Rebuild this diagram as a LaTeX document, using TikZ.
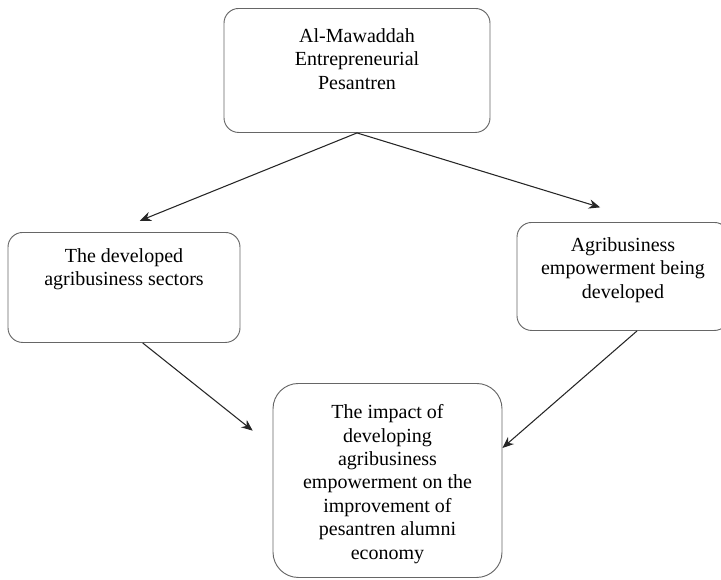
\documentclass[tikz,border=0pt]{standalone}
\usepackage{fontspec}
\setmainfont{Liberation Serif}
\usetikzlibrary{arrows.meta}

\begin{document}
\begin{tikzpicture}[x=0.75pt,y=-0.75pt,
    box/.style={draw=black!60,line width=0.7pt,rounded corners=11pt,anchor=north,
      align=center,inner xsep=0pt,inner ysep=0pt,
      font=\fontsize{15}{17.6}\selectfont},
    arr/.style={-{Stealth[length=8.5pt,width=7pt]},line width=0.8pt,black!85}]
  \useasboundingbox (0,0) rectangle (721,579);
  % boxes (text height runs to the last baseline)
  \node[box,minimum width=199.5pt,text height=60.7pt,text depth=32.3pt] (top) at (357,8)
    {Al-Mawaddah\\Entrepreneurial\\Pesantren};
  \node[box,minimum width=174pt,text height=40.1pt,text depth=42.4pt] (sectors) at (124,232)
    {The developed\\agribusiness sectors};
  \node[box,minimum width=159pt,text height=56.9pt,text depth=24.1pt] (empower) at (623,222)
    {Agribusiness\\empowerment being\\developed};
  \node[box,rounded corners=19pt,minimum width=171.75pt,text height=131.9pt,text depth=13.6pt]
    (impact) at (387.5,383)
    {The impact of\\developing\\agribusiness\\empowerment on the\\improvement of\\pesantren alumni\\economy};
  % arrows
  \draw[arr,shorten >=22.5pt] (top.south) -- ([xshift=-9pt]sectors.north);
  \draw[arr,shorten >=37.5pt] (top.south) -- ([xshift=18.75pt]empower.north);
  \draw[arr,shorten >=19pt] ([xshift=14pt]sectors.south) -- ([yshift=25.5pt]impact.west);
  \draw[arr] ([xshift=10.5pt]empower.south) -- ([yshift=24.4pt]impact.east);
\end{tikzpicture}
\end{document}
